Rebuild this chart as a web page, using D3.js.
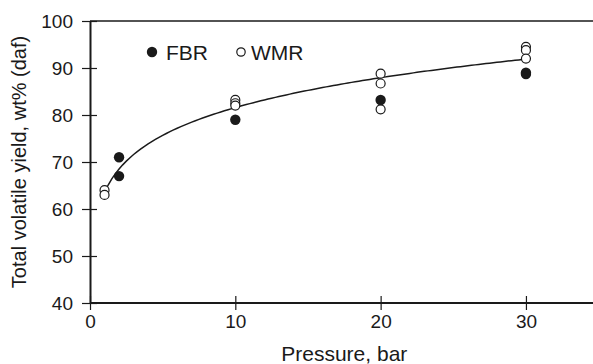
<!DOCTYPE html>
<html><head><meta charset="utf-8">
<script src="https://cdn.jsdelivr.net/npm/d3@7/dist/d3.min.js"></script>
<style>body{margin:0;background:#fff;}svg{display:block;font-family:"Liberation Sans",Arial,sans-serif;}</style>
</head><body>
<script>
const fbrX = [2, 2, 10, 20, 30, 30];
const fbrY = [71, 67, 79, 83.2, 88.7, 89];
const wmrX = [1, 1, 10, 10, 10, 20, 20, 20, 30, 30, 30];
const wmrY = [64, 63, 83.2, 82.5, 82, 88.8, 86.7, 81.2, 94.5, 93.8, 92];
const xTicks = [0, 10, 20, 30];
const yTicks = [40, 50, 60, 70, 80, 90, 100];

const W = 593, H = 364;
const svg = d3.select("body").append("svg").attr("width", W).attr("height", H);
const x = d3.scaleLinear().domain([0, 35]).range([90, 598.6]);
const y = d3.scaleLinear().domain([40, 100]).range([303, 21]);
const ink = "#1a1a1a";
const FF = "Liberation Sans, Arial, sans-serif";

// power-law trend fitted to WMR data (log-log least squares)
const lx = wmrX.map(Math.log), ly = wmrY.map(Math.log);
const mx = d3.mean(lx), my = d3.mean(ly);
const b = d3.sum(lx.map((v,i)=>(v-mx)*(ly[i]-my))) / d3.sum(lx.map(v=>(v-mx)*(v-mx)));
const a = Math.exp(my - b*mx);
const curve = d3.range(1, 30.01, 0.25).map(v => [v, a*Math.pow(v, b)]);

// frame top
svg.append("line").attr("x1", x(0)).attr("x2", W+5).attr("y1", y(100)).attr("y2", y(100)).attr("stroke", ink).attr("stroke-width", 1.5);

const gx = svg.append("g").attr("transform", `translate(0,${y(40)})`)
  .call(d3.axisBottom(x).tickValues(xTicks).tickSize(0).tickPadding(12));
gx.select(".domain").attr("stroke", ink).attr("stroke-width", 2).attr("d", `M${x(0)},0H${W+5}`);
gx.selectAll(".tick text").attr("font-size", 19).attr("fill", ink).attr("font-family", FF);
gx.selectAll(".tick").append("line").attr("y1", -7).attr("y2", 7).attr("stroke", ink).attr("stroke-width", 1.2);

const gy = svg.append("g").attr("transform", `translate(${x(0)},0)`)
  .call(d3.axisLeft(y).tickValues(yTicks).tickSize(0).tickPadding(17));
gy.select(".domain").attr("stroke", ink).attr("stroke-width", 2);
gy.selectAll(".tick text").attr("font-size", 19).attr("fill", ink).attr("font-family", FF);
gy.selectAll(".tick").append("line").attr("x1", -8).attr("x2", 7).attr("stroke", ink).attr("stroke-width", 1.2);

// trend curve
svg.append("path").datum(curve)
  .attr("d", d3.line().x(d=>x(d[0])).y(d=>y(d[1])))
  .attr("fill", "none").attr("stroke", ink).attr("stroke-width", 1.5);

// points
svg.append("g").selectAll("circle").data(wmrX.map((v,i)=>[v, wmrY[i]])).join("circle")
  .attr("cx", d=>x(d[0])).attr("cy", d=>y(d[1])).attr("r", 4.5)
  .attr("fill", "#fff").attr("stroke", ink).attr("stroke-width", 1.2);
svg.append("g").selectAll("circle").data(fbrX.map((v,i)=>[v, fbrY[i]])).join("circle")
  .attr("cx", d=>x(d[0])).attr("cy", d=>y(d[1])).attr("r", 5.2)
  .attr("fill", ink);

// legend
svg.append("circle").attr("cx", 152).attr("cy", 52).attr("r", 5.2).attr("fill", ink);
svg.append("text").attr("x", 166).attr("y", 60).attr("font-size", 21).attr("fill", ink).text("FBR");
svg.append("circle").attr("cx", 241).attr("cy", 52).attr("r", 4.2).attr("fill", "#fff").attr("stroke", ink).attr("stroke-width", 1.2);
svg.append("text").attr("x", 251).attr("y", 60).attr("font-size", 21).attr("fill", ink).text("WMR");

// axis titles
svg.append("text").attr("x", (x(0) + x(35)) / 2).attr("y", 361).attr("text-anchor", "middle")
  .attr("font-size", 21).attr("fill", ink).text("Pressure, bar");
svg.append("text").attr("transform", `translate(26,${y(70)}) rotate(-90)`).attr("text-anchor", "middle")
  .attr("font-size", 20).attr("fill", ink).text("Total volatile yield, wt% (daf)");
</script>
</body></html>
